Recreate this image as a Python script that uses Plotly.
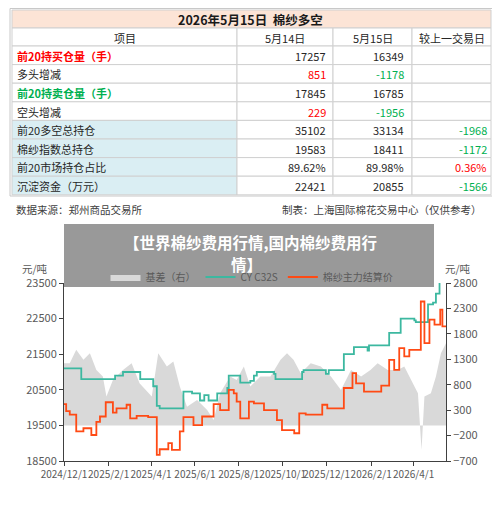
import plotly.graph_objects as go
import pandas as pd

# page body has an 8px margin; size the figure so it fits the 500x511 window
OFF = 8
W, H = 500 - 2 * OFF, 511 - 2 * OFF
def px(x): return (x - OFF) / W
def py(y): return 1 - (y - OFF) / H

# ---------------- table data ----------------
table_title = "2026年5月15日  棉纱多空"
headers = ["项目", "5月14日", "5月15日", "较上一交易日"]
items = ["前20持买仓量（手）", "多头增减", "前20持卖仓量（手）", "空头增减",
         "前20多空总持仓", "棉纱指数总持仓", "前20市场持仓占比", "沉淀资金（万元）"]
col_may14 = ["17257", "851", "17845", "229", "35102", "19583", "89.62%", "22421"]
col_may15 = ["16349", "-1178", "16785", "-1956", "33134", "18411", "89.98%", "20855"]
col_change = ["", "", "", "", "-1968", "-1172", "0.36%", "-1566"]
source_note = "数据来源：郑州商品交易所"
maker_note = "制表：上海国际棉花交易中心（仅供参考）"

# ---------------- chart data (days since 2024-12-01) ----------------
cy_days = [0,24,68,71,82,101,106,124,129,133,161,166,178,189,195,201,213,227,229,243,245,259,264,268,282,292,294,324,331,333,361,364,368,387,389,401,403,417,422,424,450,452,464,468,487,489,501,506,513,517,522,524]
cy_vals = [21100,20800,20800,20900,21000,21000,20800,20600,20050,19980,19980,20450,20400,20200,20350,20200,20400,20550,20900,20900,20700,20750,20900,21000,21000,20950,20800,20800,21000,21050,21050,20950,21050,21050,21500,21500,21700,21700,21600,21750,21750,22100,22100,22500,22450,22400,22400,22900,22950,23200,23600,23700]

fut_days = [0,3,8,17,27,33,38,45,50,58,66,68,73,85,87,92,101,115,117,127,129,133,145,150,157,161,166,178,180,189,192,203,208,217,224,229,236,240,245,252,257,264,273,278,289,296,303,315,320,327,336,357,359,366,382,389,401,406,413,417,436,441,450,452,459,466,473,480,494,496,501,508,515,523,526,531]
fut_vals = [20100,19900,19800,19330,19420,19420,19230,19600,19750,20150,20150,19860,19980,19980,20080,19700,19770,19770,19730,19730,18670,18830,19000,18810,18810,19330,19730,19730,19510,19510,19750,19750,20100,19930,19930,20500,20400,20170,19700,19700,20170,20120,20120,19930,19930,19650,19370,19370,19280,19840,19800,19800,20080,19980,19980,20550,20970,20680,20680,20450,20450,20620,20620,21340,21060,21670,21440,21620,21620,22980,21810,22470,22330,22750,22280,22280]

basis_days = [0,8,17,27,36,45,54,59,68,82,94,105,122,131,143,152,161,171,185,199,208,217,231,240,250,259,273,287,301,310,319,329,343,357,371,385,399,413,426,436,450,464,473,482,492,497,501,510,517,524,531]
basis_vals = [1223,1223,1486,1290,1420,1090,960,566,895,1090,1223,829,566,1420,1157,1256,763,369,500,303,106,632,960,895,1157,763,960,960,1290,1420,1290,1026,1223,1157,960,698,1090,960,1090,1223,1090,1090,1157,895,632,-485,566,632,960,1420,1617]

start = pd.Timestamp("2024-12-01")
to_dates = lambda d: [start + pd.Timedelta(days=int(v)) for v in d]
tick_dates = pd.date_range("2024-12-01", "2026-04-01", freq="2MS")
tick_text = [f"{t.year}/{t.month}/1" for t in tick_dates]

fig = go.Figure()
fig.add_trace(go.Scatter(x=to_dates(basis_days), y=basis_vals, yaxis="y", name="基差（右）",
                         fill="tozeroy", fillcolor="#d9d9d9", line=dict(width=0, color="#a6a6a6"),
                         mode="lines"))
fig.add_trace(go.Scatter(x=to_dates(cy_days), y=cy_vals, yaxis="y2", name="CY C32S", mode="lines",
                         line=dict(color="#3cb8a0", width=1.8, shape="hv")))
fig.add_trace(go.Scatter(x=to_dates(fut_days), y=fut_vals, yaxis="y2", name="棉纱主力结算价", mode="lines",
                         line=dict(color="#ff4a14", width=1.8, shape="hv")))

tickfont = dict(family="Noto Sans CJK SC", size=11, color="#595959")
fig.update_layout(
    width=W, height=H, margin=dict(l=0, r=0, t=0, b=0, autoexpand=False),
    paper_bgcolor="white", plot_bgcolor="white",
    font=dict(family="Noto Sans CJK SC"),
    showlegend=True,
    legend=dict(orientation="h", x=px(252), y=py(277), xanchor="center", yanchor="middle",
                font=dict(size=10, color="#595959"), bgcolor="rgba(0,0,0,0)"),
    xaxis=dict(domain=[px(64), px(446)], range=[start, start + pd.Timedelta(days=531)],
               tickvals=tick_dates, ticktext=tick_text, tickangle=0, automargin=False,
               tickfont=dict(family="Noto Sans CJK SC", size=10, color="#595959"),
               showline=True, linecolor="#404040", ticks="outside", ticklen=4, tickcolor="#404040",
               showgrid=False, anchor="y"),
    yaxis=dict(domain=[py(461), py(283)], side="right", range=[-700, 2800], automargin=False,
               tickvals=list(range(-700, 2801, 500)), tickformat="d",
               tickfont=tickfont, showline=True, linecolor="#404040", ticks="outside", ticklen=4,
               tickcolor="#404040", showgrid=False, zeroline=False),
    yaxis2=dict(overlaying="y", side="left", range=[18500, 23500], tickvals=list(range(18500, 23501, 1000)),
                automargin=False, tickformat="d", tickfont=tickfont, showline=True, linecolor="#404040",
                ticks="outside", ticklen=4, tickcolor="#404040", showgrid=False, zeroline=False, anchor="x"),
)

shapes, annos = [], []
def rect(x0, y0, x1, y1, fill, line="#d0d0d0"):
    shapes.append(dict(type="rect", xref="paper", yref="paper", x0=px(x0), x1=px(x1),
                       y0=py(y1), y1=py(y0), fillcolor=fill, line=dict(color=line, width=1), layer="below"))
def text(x, y, s, color="#262626", size=11, anchor="left", bold=False):
    if bold: s = f"<b>{s}</b>"
    annos.append(dict(xref="paper", yref="paper", x=px(x), y=py(y), text=s, showarrow=False,
                      xanchor=anchor, yanchor="middle", font=dict(size=size, color=color, family="Noto Sans CJK SC")))

cols = [12, 237, 333, 412, 491]
rect(10, 8.5, 493, 196, "white", "#c8c8c8")
rect(12, 10, 491, 28, "#fce4d6")
text(250, 19.5, table_title, "#1a1a1a", 12.5, "center", True)
rows = [(28, 46)] + [(46 + i * 18.6, 46 + (i + 1) * 18.6) for i in range(8)]
for c in range(4):
    rect(cols[c], rows[0][0], cols[c + 1], rows[0][1], "white")
    text((cols[c] + cols[c + 1]) / 2, 37.5, headers[c], "#262626", 11, "center")
red, green = "#ff0000", "#00b050"
def vc(s):
    return green if s.startswith("-") else "#262626"
for i in range(8):
    y0, y1 = rows[i + 1]
    ym = (y0 + y1) / 2 + 0.5
    for c in range(4):
        fill = "#daeef3" if (c == 0 and i >= 4) else "white"
        rect(cols[c], y0, cols[c + 1], y1, fill)
    ic = red if i == 0 else (green if i == 2 else "#262626")
    text(15, ym, items[i], ic, 11, "left", i in (0, 2))
    c14 = red if i in (1, 3) else vc(col_may14[i])
    text(328, ym, col_may14[i], c14, 11, "right")
    text(406, ym, col_may15[i], vc(col_may15[i]), 11, "right")
    cc = red if i == 6 else vc(col_change[i])
    text(489, ym, col_change[i], cc, 11, "right")
text(14, 210, source_note, "#404040", 10.5, "left")
text(484, 210, maker_note, "#404040", 10.5, "right")

text(35, 268, "元/吨", "#595959", 10.5, "center")
text(458, 268, "元/吨", "#595959", 10.5, "center")

shapes.append(dict(type="rect", xref="paper", yref="paper", x0=px(64), x1=px(434), y0=py(287), y1=py(224),
                   fillcolor="rgba(130,130,130,0.82)", line=dict(width=0), layer="above"))
text(250, 242, "【世界棉纱费用行情,国内棉纱费用行", "white", 15.5, "center", True)
text(246, 264, "情】", "white", 15.5, "center", True)

fig.update_layout(shapes=shapes, annotations=annos)
fig.write_html("out.html")
